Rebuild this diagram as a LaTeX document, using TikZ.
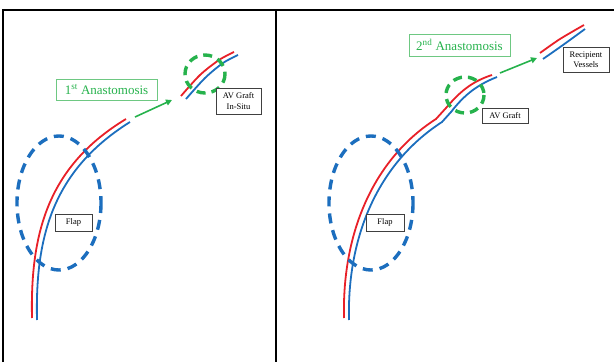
\documentclass[tikz,border=0pt]{standalone}
\usepackage{fontspec}
\setmainfont{Liberation Serif}
\usetikzlibrary{arrows.meta,positioning}
\definecolor{artred}{RGB}{232,32,40}
\definecolor{veinblue}{RGB}{28,110,190}
\definecolor{anagreen}{RGB}{38,178,76}
\definecolor{boxgreen}{RGB}{110,200,130}

\begin{document}
\begin{tikzpicture}[x=1pt,y=-1pt,
  artery/.style={draw=artred,line width=1.8pt},
  vein/.style={draw=veinblue,line width=1.8pt},
  flapring/.style={draw=veinblue,line width=3.4pt,dash pattern=on 10pt off 7pt},
  anaring/.style={draw=anagreen,line width=3.4pt,dash pattern=on 9pt off 6pt},
  flow/.style={draw=anagreen,line width=1.6pt,-{Triangle[length=6pt,width=6pt]}},
  tag/.style={draw=black!75,line width=0.8pt,fill=white,inner sep=0pt,align=center,
    font=\fontsize{8.5}{10.5}\selectfont},
  anatag/.style={draw=boxgreen,line width=0.8pt,text=anagreen,inner sep=0pt,
    minimum width=101pt,minimum height=21pt,font=\fontsize{13}{15}\selectfont}]
\useasboundingbox (0,0) rectangle (614,362);

% panel frame
\draw[line width=2pt] (3,362) -- (3,10) -- (614,10);
\draw[line width=2pt] (276,10) -- (276,362);

% left panel: vessels before the graft is joined
\draw[artery] (32,318) .. controls (30,230) and (50,165) .. (126,119);
\draw[vein] (37,320) .. controls (35,233) and (55,169) .. (130,122);
\draw[artery] plot[smooth] coordinates {(181,96) (200,75) (219,60) (234,52)};
\draw[vein] plot[smooth] coordinates {(186,99) (205,78) (223,63) (238,55)};

% right panel: graft joined, kink at the first anastomosis
\draw[artery] (344,318) .. controls (342,235) and (372,160) .. (436,119)
  -- (446,108) .. controls (458,94) and (470,82) .. (492,75);
\draw[vein] (349,320) .. controls (347,238) and (377,164) .. (442,122)
  -- (451,112) .. controls (462,98) and (474,86) .. (497,77);
\draw[artery] plot[smooth] coordinates {(540,53) (560,39) (584,25)};
\draw[vein] plot[smooth] coordinates {(543,59) (563,45) (585,29)};

% dashed rings
\draw[flapring] (59,203) ellipse [x radius=42, y radius=67];
\draw[flapring] (371,203) ellipse [x radius=42, y radius=67];
\draw[anaring] (205,74) ellipse [x radius=20, y radius=19];
\draw[anaring] (465,95) ellipse [x radius=19, y radius=18];

% labels
\node[anatag] (anaA) at (106.5,89.5) {1\textsuperscript{st} Anastomosis};
\node[anatag,minimum height=22pt] (anaB) at (459.5,45) {2\textsuperscript{nd} Anastomosis};
\foreach \pos/\name/\w/\h/\txt in {(238.5,101)/graftA/45/26/{AV Graft\\In-Situ}, (505,115.5)/graftB/46/15/{AV Graft},
    (586,59.5)/recip/46/25/{Recipient\\Vessels}, (73.5,222.5)/flapA/37/17/Flap, (385,222.5)/flapB/38/17/Flap}
  \node[tag,minimum width=\w pt,minimum height=\h pt] (\name) at \pos {\txt};

% arrows toward the anastomosis sites
\coordinate (goA) at (135,117);
\coordinate (toA) at (172,100);
\coordinate (goB) at (500,73);
\coordinate (toB) at (537,58);
\draw[flow] (goA) -- (toA);
\draw[flow] (goB) -- (toB);

\end{tikzpicture}
\end{document}
